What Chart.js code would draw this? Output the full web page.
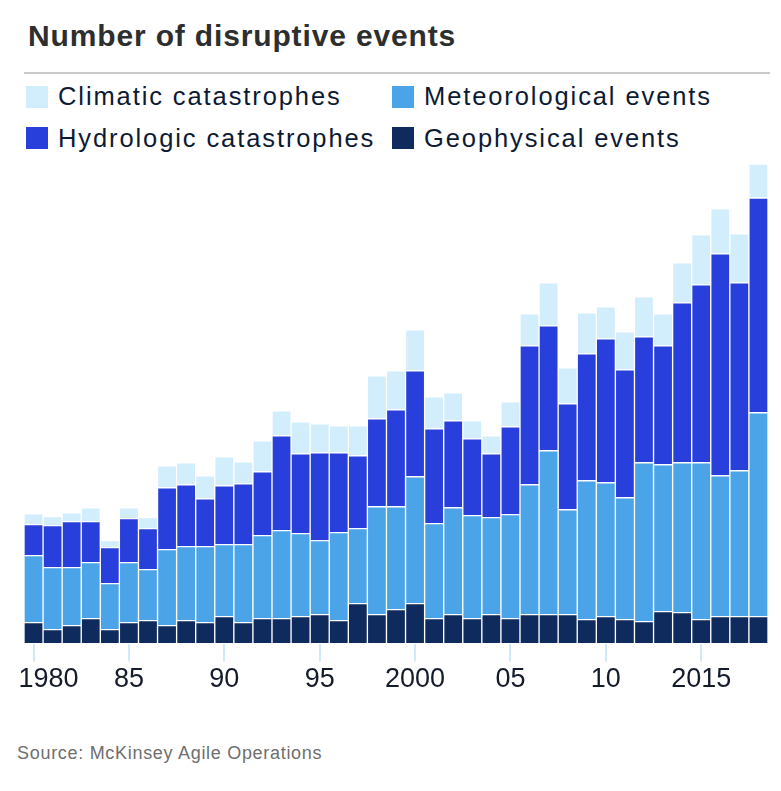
<!DOCTYPE html>
<html><head><meta charset="utf-8">
<script src="https://cdn.jsdelivr.net/npm/chart.js@4.4.1/dist/chart.umd.min.js"></script>
<style>
html,body{margin:0;padding:0;background:#fff;width:781px;height:791px;overflow:hidden;position:relative;font-family:'Liberation Sans',Arial,sans-serif;}
.t{position:absolute;line-height:1;white-space:nowrap;}
#title{left:28px;top:21px;font-weight:bold;font-size:30px;color:#2e2e2e;letter-spacing:0.85px;}
#rule{position:absolute;left:24px;top:72px;width:746px;height:2px;background:#c9c9c9;}
.sw{position:absolute;width:22px;height:22px;}
.lg{font-size:25.5px;color:#0d1a33;letter-spacing:1.9px;}
#source{left:17px;top:744px;font-size:18px;color:#6e6e6e;letter-spacing:0.7px;}
#wrap{position:absolute;left:-20px;top:150px;width:801px;height:548px;}
</style></head>
<body>
<div class="t" id="title">Number of disruptive events</div>
<div id="rule"></div>
<div id="legend"></div>
<div id="wrap"><canvas id="c"></canvas></div>
<div class="t" id="source">Source: McKinsey Agile Operations</div>
<script>
const years = [1980,1981,1982,1983,1984,1985,1986,1987,1988,1989,1990,1991,1992,1993,1994,1995,1996,1997,1998,1999,2000,2001,2002,2003,2004,2005,2006,2007,2008,2009,2010,2011,2012,2013,2014,2015,2016,2017,2018];
const geophysical   = [21,14,18,25,14,21,23,18,23,21,27,21,25,25,27,29,23,40,29,34,40,25,29,25,29,25,29,29,29,24,27,24,22,32,31,24,27,27,27];
const meteorological= [67,62,58,56,46,60,51,76,74,76,72,78,83,88,83,74,88,75,108,103,127,95,107,103,97,104,130,164,105,139,134,122,159,147,150,157,141,146,204];
const hydrologic    = [31,42,46,41,36,44,41,62,62,48,59,61,64,95,80,88,80,73,88,97,106,95,87,77,64,88,139,125,106,127,144,128,126,119,160,178,222,188,215];
const climatic      = [11,9,9,14,7,11,11,22,22,23,29,22,31,25,32,29,27,30,43,39,41,32,28,18,18,25,32,43,36,41,32,38,40,32,40,50,45,49,34];
const tickYears  = [1980,1985,1990,1995,2000,2005,2010,2015];
const tickLabels = ['1980','85','90','95','2000','05','10','2015'];
const seriesNames = ['Climatic catastrophes','Meteorological events','Hydrologic catastrophes','Geophysical events'];
const seriesColors = ['#d2edfb','#4ba4e8','#283fdb','#0f2a5c'];

// legend (HTML)
const legendPos = [[26,58,86,84],[392,424,86,84],[26,58,127,126],[392,424,127,126]];
const lg = document.getElementById('legend');
seriesNames.forEach((n,i)=>{
  const p = legendPos[i];
  const s = document.createElement('div'); s.className='sw';
  s.style.left=p[0]+'px'; s.style.top=p[2]+'px'; s.style.background=seriesColors[i];
  lg.appendChild(s);
  const t = document.createElement('div'); t.className='t lg'; t.textContent=n;
  t.style.left=p[1]+'px'; t.style.top=p[3]+'px';
  lg.appendChild(t);
});

const common = {borderColor:'#ffffff', borderWidth:1, borderSkipped:false, barPercentage:1, categoryPercentage:1};
new Chart(document.getElementById('c'), {
  type:'bar',
  data:{
    labels: years.map(String),
    datasets:[
      Object.assign({label:seriesNames[3], data:geophysical, backgroundColor:seriesColors[3]}, common),
      Object.assign({label:seriesNames[1], data:meteorological, backgroundColor:seriesColors[1]}, common),
      Object.assign({label:seriesNames[2], data:hydrologic, backgroundColor:seriesColors[2]}, common),
      Object.assign({label:seriesNames[0], data:climatic, backgroundColor:seriesColors[0]}, common)
    ]
  },
  options:{
    responsive:true, maintainAspectRatio:false, animation:false,
    devicePixelRatio:1,
    layout:{padding:{left:44,right:13,top:0,bottom:0}},
    plugins:{legend:{display:false}, tooltip:{enabled:false}},
    scales:{
      x:{
        stacked:true,
        border:{display:false},
        grid:{
          offset:false, drawOnChartArea:false, drawTicks:true, tickLength:18, lineWidth:2,
          color:(ctx)=> (ctx.index!==undefined && tickYears.includes(years[ctx.index])) ? '#cfe9f8' : 'rgba(0,0,0,0)'
        },
        ticks:{
          autoSkip:false, maxRotation:0, minRotation:0, padding:2,
          color:'#141b2b',
          font:{family:"'Liberation Sans', Arial, sans-serif", size:27, lineHeight:1.2},
          callback:function(v, idx){
            const k = tickYears.indexOf(years[idx]);
            if (k < 0) return '';
            return idx === 0 ? '    ' + tickLabels[k] : tickLabels[k];
          }
        }
      },
      y:{stacked:true, display:false, min:0, max:494}
    }
  }
});
</script>
</body></html>
